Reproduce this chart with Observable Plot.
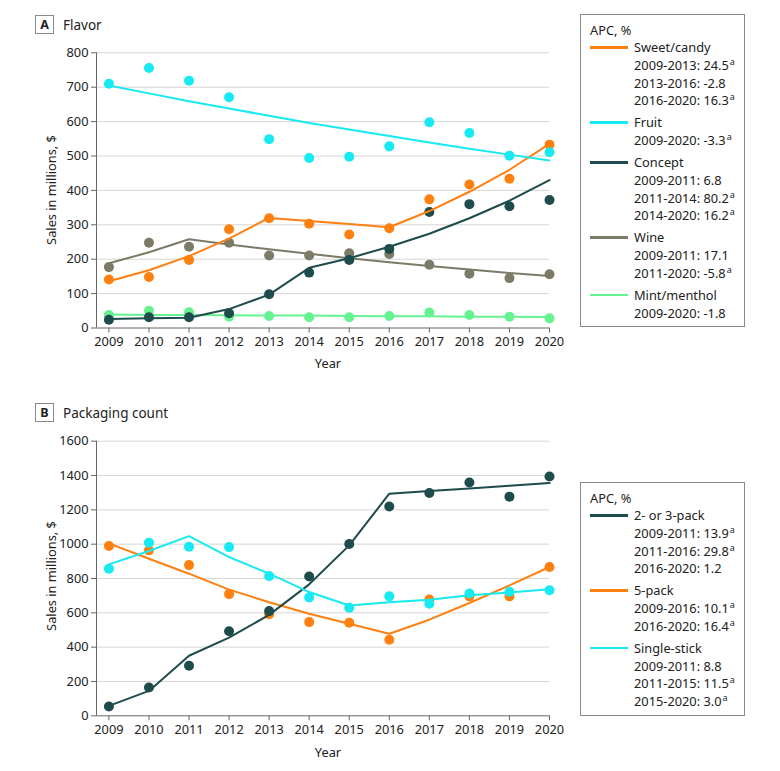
<!DOCTYPE html>
<html><head><meta charset="utf-8">
<script src="https://cdn.jsdelivr.net/npm/d3@7"></script>
<script src="https://cdn.jsdelivr.net/npm/@observablehq/plot@0.6"></script>
<style>
body{margin:0;background:#fff;font-family:"Noto Sans",Roboto,sans-serif;color:#222;}
#wrap{position:relative;width:780px;height:771px;overflow:hidden;}
.tag{position:absolute;width:17px;height:17px;border:1px solid #8a8a8a;font-weight:bold;font-size:12.5px;text-align:center;line-height:17px;}
.ptitle{position:absolute;font-size:13.5px;line-height:16px;white-space:nowrap;}
.axlab{position:absolute;font-size:12.8px;line-height:16px;white-space:nowrap;transform:translate(-50%,-50%);}
.ylab{transform:translate(-50%,-50%) rotate(-90deg);}
.legend{position:absolute;border:1px solid #8a8a8a;box-sizing:border-box;font-size:12.8px;}
.row{position:absolute;left:9px;height:18px;line-height:18px;white-space:nowrap;}
.sw{position:absolute;left:0;top:8px;width:38px;height:2.5px;}
sup{font-size:9px;vertical-align:0;position:relative;top:-5px;margin-left:1px;}
</style>
</head><body>
<div id="wrap"></div>
<script>
// ---------- data ----------
const years = [2009, 2010, 2011, 2012, 2013, 2014, 2015, 2016, 2017, 2018, 2019, 2020];

// Panel A: Flavor (sales in millions of $)
const sweetObs   = [141, 148, 198, 287, 319, 303, 272, 290, 374, 417, 434, 533];
const sweetFit   = [136, 168, 209, 260, 320, 311, 302, 293, 340, 396, 460, 535];
const fruitObs   = [710, 756, 719, 671, 549, 494, 498, 528, 598, 567, 501, 511];
const fruitFit   = [705, 682, 659, 638, 617, 596, 577, 558, 539, 521, 504, 487];
const conceptObs = [24, 31, 31, 43, 98, 161, 198, 230, 337, 360, 354, 372];
const conceptFit = [26, 28, 30, 55, 97, 175, 203, 236, 274, 319, 370, 430];
const wineObs    = [177, 248, 236, 248, 211, 211, 217, 215, 184, 158, 145, 156];
const wineFit    = [188, 220, 258, 243, 229, 216, 203, 191, 180, 170, 160, 151];
const mintObs    = [38, 50, 46, 33, 35, 31, 31, 35, 45, 38, 33, 28];
const mintFit    = [39, 38, 38, 37, 36, 36, 35, 34, 34, 33, 33, 32];

// Panel B: Packaging count
const pack23Obs  = [54, 165, 292, 493, 610, 812, 1001, 1220, 1298, 1359, 1277, 1394];
const pack23Fit  = [58, 145, 350, 455, 588, 766, 993, 1294, 1310, 1325, 1340, 1356];
const pack5Obs   = [989, 964, 878, 709, 592, 546, 542, 443, 678, 696, 696, 867];
const pack5Fit   = [1005, 915, 828, 735, 662, 595, 536, 478, 560, 657, 760, 867];
const singleObs  = [857, 1009, 985, 983, 814, 690, 630, 696, 653, 713, 723, 732];
const singleFit  = [882, 960, 1047, 925, 828, 721, 643, 662, 676, 703, 719, 738];

// Legend texts (APC, %); true marks the significance superscript "a"
const sweetAPC   = [["2009-2013: 24.5", true], ["2013-2016: -2.8", false], ["2016-2020: 16.3", true]];
const fruitAPC   = [["2009-2020: -3.3", true]];
const conceptAPC = [["2009-2011: 6.8", false], ["2011-2014: 80.2", true], ["2014-2020: 16.2", true]];
const wineAPC    = [["2009-2011: 17.1", false], ["2011-2020: -5.8", true]];
const mintAPC    = [["2009-2020: -1.8", false]];
const pack23APC  = [["2009-2011: 13.9", true], ["2011-2016: 29.8", true], ["2016-2020: 1.2", false]];
const pack5APC   = [["2009-2016: 10.1", true], ["2016-2020: 16.4", true]];
const singleAPC  = [["2009-2011: 8.8", false], ["2011-2015: 11.5", true], ["2015-2020: 3.0", true]];

const yTicksA = [0, 100, 200, 300, 400, 500, 600, 700, 800];
const yTicksB = [0, 200, 400, 600, 800, 1000, 1200, 1400, 1600];

const C = {orange: "#ff7f0f", cyan: "#17eaf2", teal: "#1e4b4b", wine: "#7c7b68", mint: "#66f291"};

// draw order (bottom to top) for each panel
const seriesA = [
  {name: "Mint/menthol", color: C.mint, obs: mintObs, fit: mintFit},
  {name: "Wine", color: C.wine, obs: wineObs, fit: wineFit},
  {name: "Concept", color: C.teal, obs: conceptObs, fit: conceptFit},
  {name: "Sweet/candy", color: C.orange, obs: sweetObs, fit: sweetFit},
  {name: "Fruit", color: C.cyan, obs: fruitObs, fit: fruitFit}
];
const legendA = [
  {name: "Sweet/candy", color: C.orange, apc: sweetAPC},
  {name: "Fruit", color: C.cyan, apc: fruitAPC},
  {name: "Concept", color: C.teal, apc: conceptAPC},
  {name: "Wine", color: C.wine, apc: wineAPC},
  {name: "Mint/menthol", color: C.mint, apc: mintAPC}
];
const seriesB = [
  {name: "5-pack", color: C.orange, obs: pack5Obs, fit: pack5Fit},
  {name: "2- or 3-pack", color: C.teal, obs: pack23Obs, fit: pack23Fit},
  {name: "Single-stick", color: C.cyan, obs: singleObs, fit: singleFit}
];
const legendB = [
  {name: "2- or 3-pack", color: C.teal, apc: pack23APC},
  {name: "5-pack", color: C.orange, apc: pack5APC},
  {name: "Single-stick", color: C.cyan, apc: singleAPC}
];

// ---------- drawing ----------
const wrap = document.getElementById("wrap");
const FONT = "'Noto Sans', Roboto, sans-serif";

function el(cls, text, style) {
  const d = document.createElement("div");
  d.className = cls;
  if (text != null) d.textContent = text;
  Object.assign(d.style, style);
  wrap.appendChild(d);
  return d;
}

function makePlot(series, yTicks, height, marginTop, top) {
  const ymax = yTicks[yTicks.length - 1];
  const xmin = 2008.69;
  const marks = [
    Plot.ruleY(yTicks.filter(d => d > 0), {stroke: "#d6d6d6", strokeWidth: 1}),
    Plot.ruleX([xmin], {y1: 0, y2: ymax, stroke: "#666", strokeWidth: 1}),
    Plot.ruleY([0], {stroke: "#666", strokeWidth: 1}),
    Plot.axisY(yTicks, {tickSize: 5, tickPadding: 3, stroke: "#666", fill: "#222", label: null, tickFormat: d => String(d), fontSize: 12.8}),
    Plot.axisX(years, {tickSize: 5, tickPadding: 4, stroke: "#666", fill: "#222", label: null, tickFormat: d => String(d), fontSize: 12.8})
  ];
  for (const s of series) {
    const rows = years.map((y, i) => ({year: y, obs: s.obs[i], fit: s.fit[i]}));
    marks.push(Plot.line(rows, {x: "year", y: "fit", stroke: s.color, strokeWidth: 2}));
    marks.push(Plot.dot(rows, {x: "year", y: "obs", r: 5, fill: s.color, stroke: "none"}));
  }
  const svg = Plot.plot({
    width: 590, height,
    marginLeft: 96, marginRight: 41, marginTop, marginBottom: 50.5,
    style: {fontFamily: FONT, fontSize: "12.8px", color: "#222", background: "transparent", overflow: "visible"},
    x: {domain: [xmin, 2020], axis: null},
    y: {domain: [0, ymax], axis: null},
    marks
  });
  svg.style.position = "absolute";
  svg.style.left = "0px";
  svg.style.top = top + "px";
  wrap.appendChild(svg);
}

function makeLegend(entries, left, top, width, height) {
  const box = el("legend", null, {left: left + "px", top: top + "px", width: width + "px", height: height + "px"});
  const step = 17.7, gap = 4.4;
  let y = 14.5 - 9;
  const head = document.createElement("div");
  head.className = "row"; head.textContent = "APC, %"; head.style.top = y + "px";
  box.appendChild(head);
  y += step;
  entries.forEach((e, k) => {
    if (k > 0) y += gap;
    const r = document.createElement("div");
    r.className = "row"; r.style.top = y + "px";
    const sw = document.createElement("div");
    sw.className = "sw"; sw.style.background = e.color;
    r.appendChild(sw);
    const t = document.createElement("span");
    t.style.paddingLeft = "44px"; t.textContent = e.name;
    r.appendChild(t);
    box.appendChild(r);
    y += step;
    for (const [txt, sig] of e.apc) {
      const l = document.createElement("div");
      l.className = "row"; l.style.top = y + "px"; l.style.paddingLeft = "44px";
      l.textContent = txt;
      if (sig) { const s = document.createElement("sup"); s.textContent = "a"; l.appendChild(s); }
      box.appendChild(l);
      y += step;
    }
  });
}

// Panel A
el("tag", "A", {left: "35px", top: "15px"});
el("ptitle", "Flavor", {left: "63px", top: "17px"});
makePlot(seriesA, yTicksA, 338, 12.3, 40);
el("axlab", "Year", {left: "328px", top: "363px"});
el("axlab ylab", "Sales in millions, $", {left: "51px", top: "190px"});
makeLegend(legendA, 580, 14, 165, 313);

// Panel B
el("tag", "B", {left: "35px", top: "403px"});
el("ptitle", "Packaging count", {left: "63px", top: "405px"});
makePlot(seriesB, yTicksB, 335.8, 10.7, 430);
el("axlab", "Year", {left: "328px", top: "752px"});
el("axlab ylab", "Sales in millions, $", {left: "51px", top: "576px"});
makeLegend(legendB, 580, 482, 165, 233.5);
</script>
</body></html>
